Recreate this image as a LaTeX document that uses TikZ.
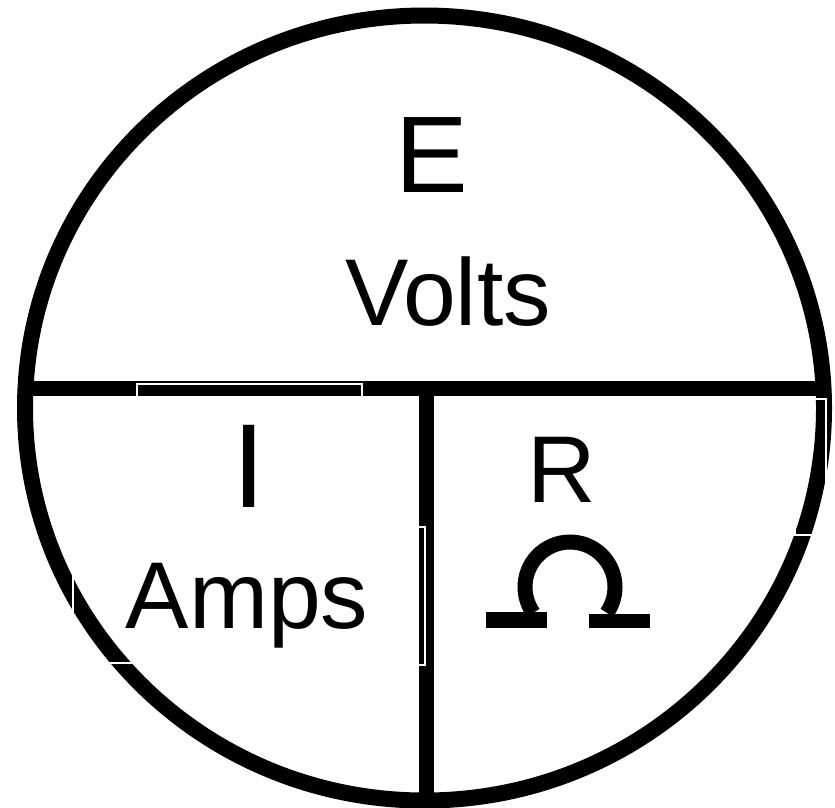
\documentclass[tikz,border=0pt]{standalone}
\usepackage{fontspec}
\setmainfont{Liberation Sans}
\usetikzlibrary{shapes.geometric}

\begin{document}
\begin{tikzpicture}[
  lbl/.style={anchor=base, inner sep=0pt, font=\fontsize{27}{27}\selectfont},
  seam/.style={draw=white, line width=0.015cm}
]
  \useasboundingbox (0,0) rectangle (8.35,-8.07);

  % Cercle
  \def\rx{3.995}
  \def\ry{3.925}
  \coordinate (ctr) at (4.245,-4.08);
  \coordinate (midL) at (0,-3.88);
  \coordinate (midR) at (8.35,-3.88);
  \coordinate (cross) at (4.26,-3.88);
  \coordinate (bot) at (4.26,-8.3);

  % Separations
  \begin{scope}
    \clip (ctr) ellipse [x radius=\rx, y radius=\ry];
    \draw[line width=0.15cm] (midL) -- (midR);
    \draw[line width=0.15cm] (cross) -- (bot);
  \end{scope}
  \draw[line width=0.16cm] (ctr) ellipse [x radius=\rx, y radius=\ry];

  % Omega
  \draw[line width=0.15cm] (5.70,-5.87) ++(215:0.45) arc[start angle=215, end angle=-35, radius=0.45];
  \fill (4.86,-6.12) rectangle (5.47,-6.28);
  \fill (5.89,-6.14) rectangle (6.50,-6.28);

  % Joints
  \draw[seam] (1.37,-3.97) -- (1.37,-3.84) -- (3.62,-3.84) -- (3.62,-3.97);
  \draw[seam] (4.17,-5.27) rectangle (4.25,-6.65);
  \draw[seam] (0.73,-5.77) rectangle (1.35,-6.63);
  \draw[seam] (7.95,-3.99) rectangle (8.26,-5.35);

  % Textes
  \node[lbl, font=\fontsize{31}{31}\selectfont] (volt) at (4.32,-1.92) {E};
  \node[lbl] (voltunit) at (4.48,-3.25) {Volts};
  \node[lbl, font=\fontsize{34}{34}\selectfont] (amp) at (2.495,-5.07) {I};
  \node[lbl] (ampunit) at (2.47,-6.28) {Amps};
  \node[lbl] (res) at (5.62,-5.02) {R};
\end{tikzpicture}
\end{document}
